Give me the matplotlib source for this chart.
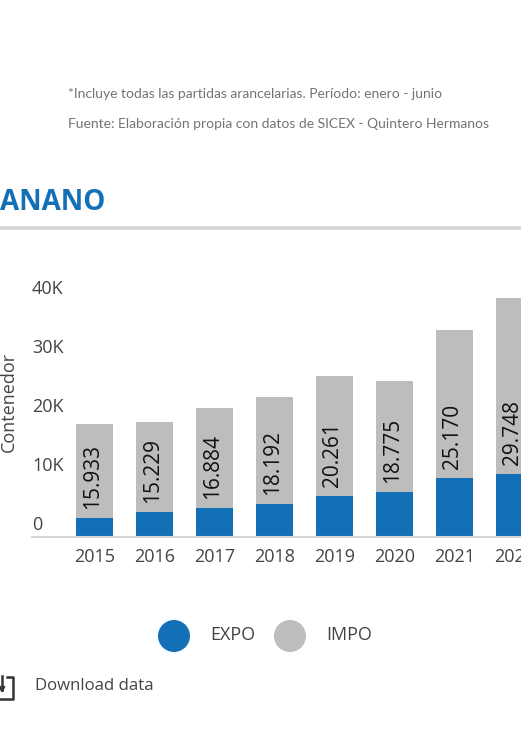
import matplotlib
matplotlib.use('Agg')
import matplotlib.pyplot as plt
from matplotlib.patches import Circle
from matplotlib.transforms import ScaledTranslation

plt.rcParams['font.family'] = ['Open Sans', 'Noto Sans', 'DejaVu Sans']

years = ['2015', '2016', '2017', '2018', '2019', '2020', '2021', '2022']
expo = [3050, 4070, 4750, 5420, 6780, 7460, 9830, 10510]
impo = [15933, 15229, 16884, 18192, 20261, 18775, 25170, 29748]
impo_labels = ['15.933', '15.229', '16.884', '18.192', '20.261', '18.775', '25.170', '29.748']
y_ticks = [0, 10000, 20000, 30000, 40000]
y_tick_labels = ['0', '10K', '20K', '30K', '40K']

BLUE = '#1470b6'
GRAY = '#bdbdbd'
TEXT = '#444444'
W, H = 521, 750

fig = plt.figure(figsize=(W / 100, H / 100), dpi=100, facecolor='white')

# Page-level overlay in pixel coordinates
ov = fig.add_axes([0, 0, 1, 1])
ov.set_xlim(0, W)
ov.set_ylim(H, 0)
ov.axis('off')

ov.text(68, 94, '*Incluye todas las partidas arancelarias. Período: enero - junio',
        fontsize=10, family='Lato', color='#737373', va='center', ha='left')
ov.text(68, 124, 'Fuente: Elaboración propia con datos de SICEX - Quintero Hermanos',
        fontsize=10, family='Lato', color='#737373', va='center', ha='left')
ov.text(0, 202, 'ANANO', fontsize=20, fontweight='bold', color=BLUE, va='center', ha='left')
ov.plot([0, W], [228, 228], color='#d6d4d4', lw=2.6, solid_capstyle='butt')

ov.text(8.5, 402, 'Contenedor', rotation=90, fontsize=13, color=TEXT, va='center', ha='center')

ov.add_patch(Circle((174, 636), 16, color=BLUE, lw=0))
ov.add_patch(Circle((290, 636), 16, color=GRAY, lw=0))
ov.text(210.5, 635, 'EXPO', fontsize=13, color=TEXT, va='center', ha='left')
ov.text(326, 635, 'IMPO', fontsize=13, color=TEXT, va='center', ha='left')
ov.text(35, 686, 'Download data', fontsize=12.1, color=TEXT, va='center', ha='left')

# Download icon
ov.plot([7, 13, 13, 0], [677, 677, 699, 699], color='#333333', lw=1.8)
ov.plot([2, 2], [676, 690], color='#333333', lw=1.8)
ov.plot([0, 2, 4], [687, 691, 687], color='#333333', lw=1.6)

# Chart
left, right, top, bottom = 32, 521, 288, 536
ax = fig.add_axes([left / W, 1 - bottom / H, (right - left) / W, (bottom - top) / H])
ax.patch.set_alpha(0)
px_per_unit = 59.0 / 10000

for s in ['top', 'right', 'left']:
    ax.spines[s].set_visible(False)
ax.spines['bottom'].set_color('#d6d6d6')
ax.spines['bottom'].set_linewidth(1.5)
ax.spines['bottom'].set_position(('outward', 0.7))

ax.set_ylim(0, (bottom - top) / px_per_unit)
ax.set_xlim((left - 94.5) / 60, (right - 94.5) / 60)

x = list(range(len(years)))
width = 37 / 60
ax.bar(x, expo, width=width, color=BLUE, lw=0, zorder=2)
ax.bar(x, impo, width=width, bottom=expo, color=GRAY, lw=0, zorder=2)

for xi, e, lab in zip(x, expo, impo_labels):
    ax.annotate(lab, (xi, e), xytext=(-2, 9), textcoords='offset pixels',
                rotation=90, ha='center', va='bottom', fontsize=15,
                color='#111111', zorder=3, annotation_clip=False)

ax.set_xticks(x)
ax.set_xticklabels(years, fontsize=13, color=TEXT)
ax.set_yticks(y_ticks)
ax.set_yticklabels(y_tick_labels, fontsize=13, color=TEXT, ha='left', va='bottom')
ax.tick_params(axis='both', length=0)
ax.tick_params(axis='x', pad=8)
ax.tick_params(axis='y', pad=0)
shift = ScaledTranslation(0, 2 / 100, fig.dpi_scale_trans)
for t in ax.get_yticklabels():
    t.set_transform(t.get_transform() + shift)

fig.savefig('out.png', dpi=100, facecolor='white')
